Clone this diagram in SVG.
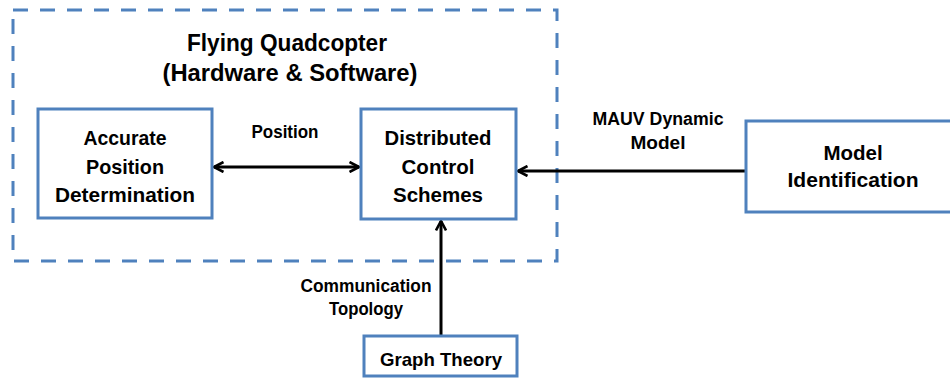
<svg xmlns="http://www.w3.org/2000/svg" width="950" height="378" viewBox="0 0 950 378">
<defs>
<style>
.box{fill:#fff;stroke:#4F81BD;stroke-width:3}
.t{font-family:"Liberation Sans",Arial,sans-serif;font-weight:bold;fill:#000;text-anchor:middle}
.n{font-size:20.5px}
.l{font-size:17.5px}
.c{stroke:#000;stroke-width:3;fill:none}
</style>
<marker id="ah" viewBox="0 0 12 12" refX="10.5" refY="6" markerWidth="12" markerHeight="12" markerUnits="userSpaceOnUse" orient="auto-start-reverse">
<path d="M1,1 L10.5,6 L1,11" fill="none" stroke="#000" stroke-width="2.6"/>
</marker>
</defs>
<rect width="950" height="378" fill="#fff"/>
<g id="container">
<rect x="13" y="10" width="544" height="251" fill="none" stroke="#4F81BD" stroke-width="3" stroke-dasharray="15 12"/>
<text class="t" x="287" y="51" font-size="23" textLength="200" lengthAdjust="spacingAndGlyphs">Flying Quadcopter</text>
<text class="t" x="290" y="81" font-size="23" textLength="255" lengthAdjust="spacingAndGlyphs">(Hardware &amp; Software)</text>
</g>
<g id="connectors">
<line class="c" x1="214" y1="167" x2="359" y2="167" marker-start="url(#ah)" marker-end="url(#ah)"/>
<line class="c" x1="746" y1="171" x2="518" y2="171" marker-end="url(#ah)"/>
<line class="c" x1="441" y1="336" x2="441" y2="221" marker-end="url(#ah)"/>
<text class="t l" x="285" y="138" textLength="67" lengthAdjust="spacingAndGlyphs">Position</text>
<text class="t l" x="658" y="125" textLength="131" lengthAdjust="spacingAndGlyphs">MAUV Dynamic</text>
<text class="t l" x="658" y="149" textLength="55" lengthAdjust="spacingAndGlyphs">Model</text>
<text class="t l" x="366" y="292" textLength="131" lengthAdjust="spacingAndGlyphs">Communication</text>
<text class="t l" x="366" y="315" textLength="74" lengthAdjust="spacingAndGlyphs">Topology</text>
</g>
<g id="apd">
<rect class="box" x="38" y="109" width="174" height="109"/>
<text class="t n" x="125" y="145" textLength="83" lengthAdjust="spacingAndGlyphs">Accurate</text>
<text class="t n" x="125" y="174" textLength="78" lengthAdjust="spacingAndGlyphs">Position</text>
<text class="t n" x="125" y="202" textLength="140" lengthAdjust="spacingAndGlyphs">Determination</text>
</g>
<g id="dcs">
<rect class="box" x="361" y="109" width="155" height="110"/>
<text class="t n" x="438" y="145" textLength="107" lengthAdjust="spacingAndGlyphs">Distributed</text>
<text class="t n" x="438" y="174">Control</text>
<text class="t n" x="438" y="202">Schemes</text>
</g>
<g id="mi">
<rect class="box" x="746" y="121" width="210" height="91"/>
<text class="t n" x="853" y="160">Model</text>
<text class="t n" x="853" y="187" textLength="131" lengthAdjust="spacingAndGlyphs">Identification</text>
</g>
<g id="gt">
<rect class="box" x="364" y="336" width="153" height="40"/>
<text class="t" x="441" y="366" font-size="19" textLength="122" lengthAdjust="spacingAndGlyphs">Graph Theory</text>
</g>
</svg>
